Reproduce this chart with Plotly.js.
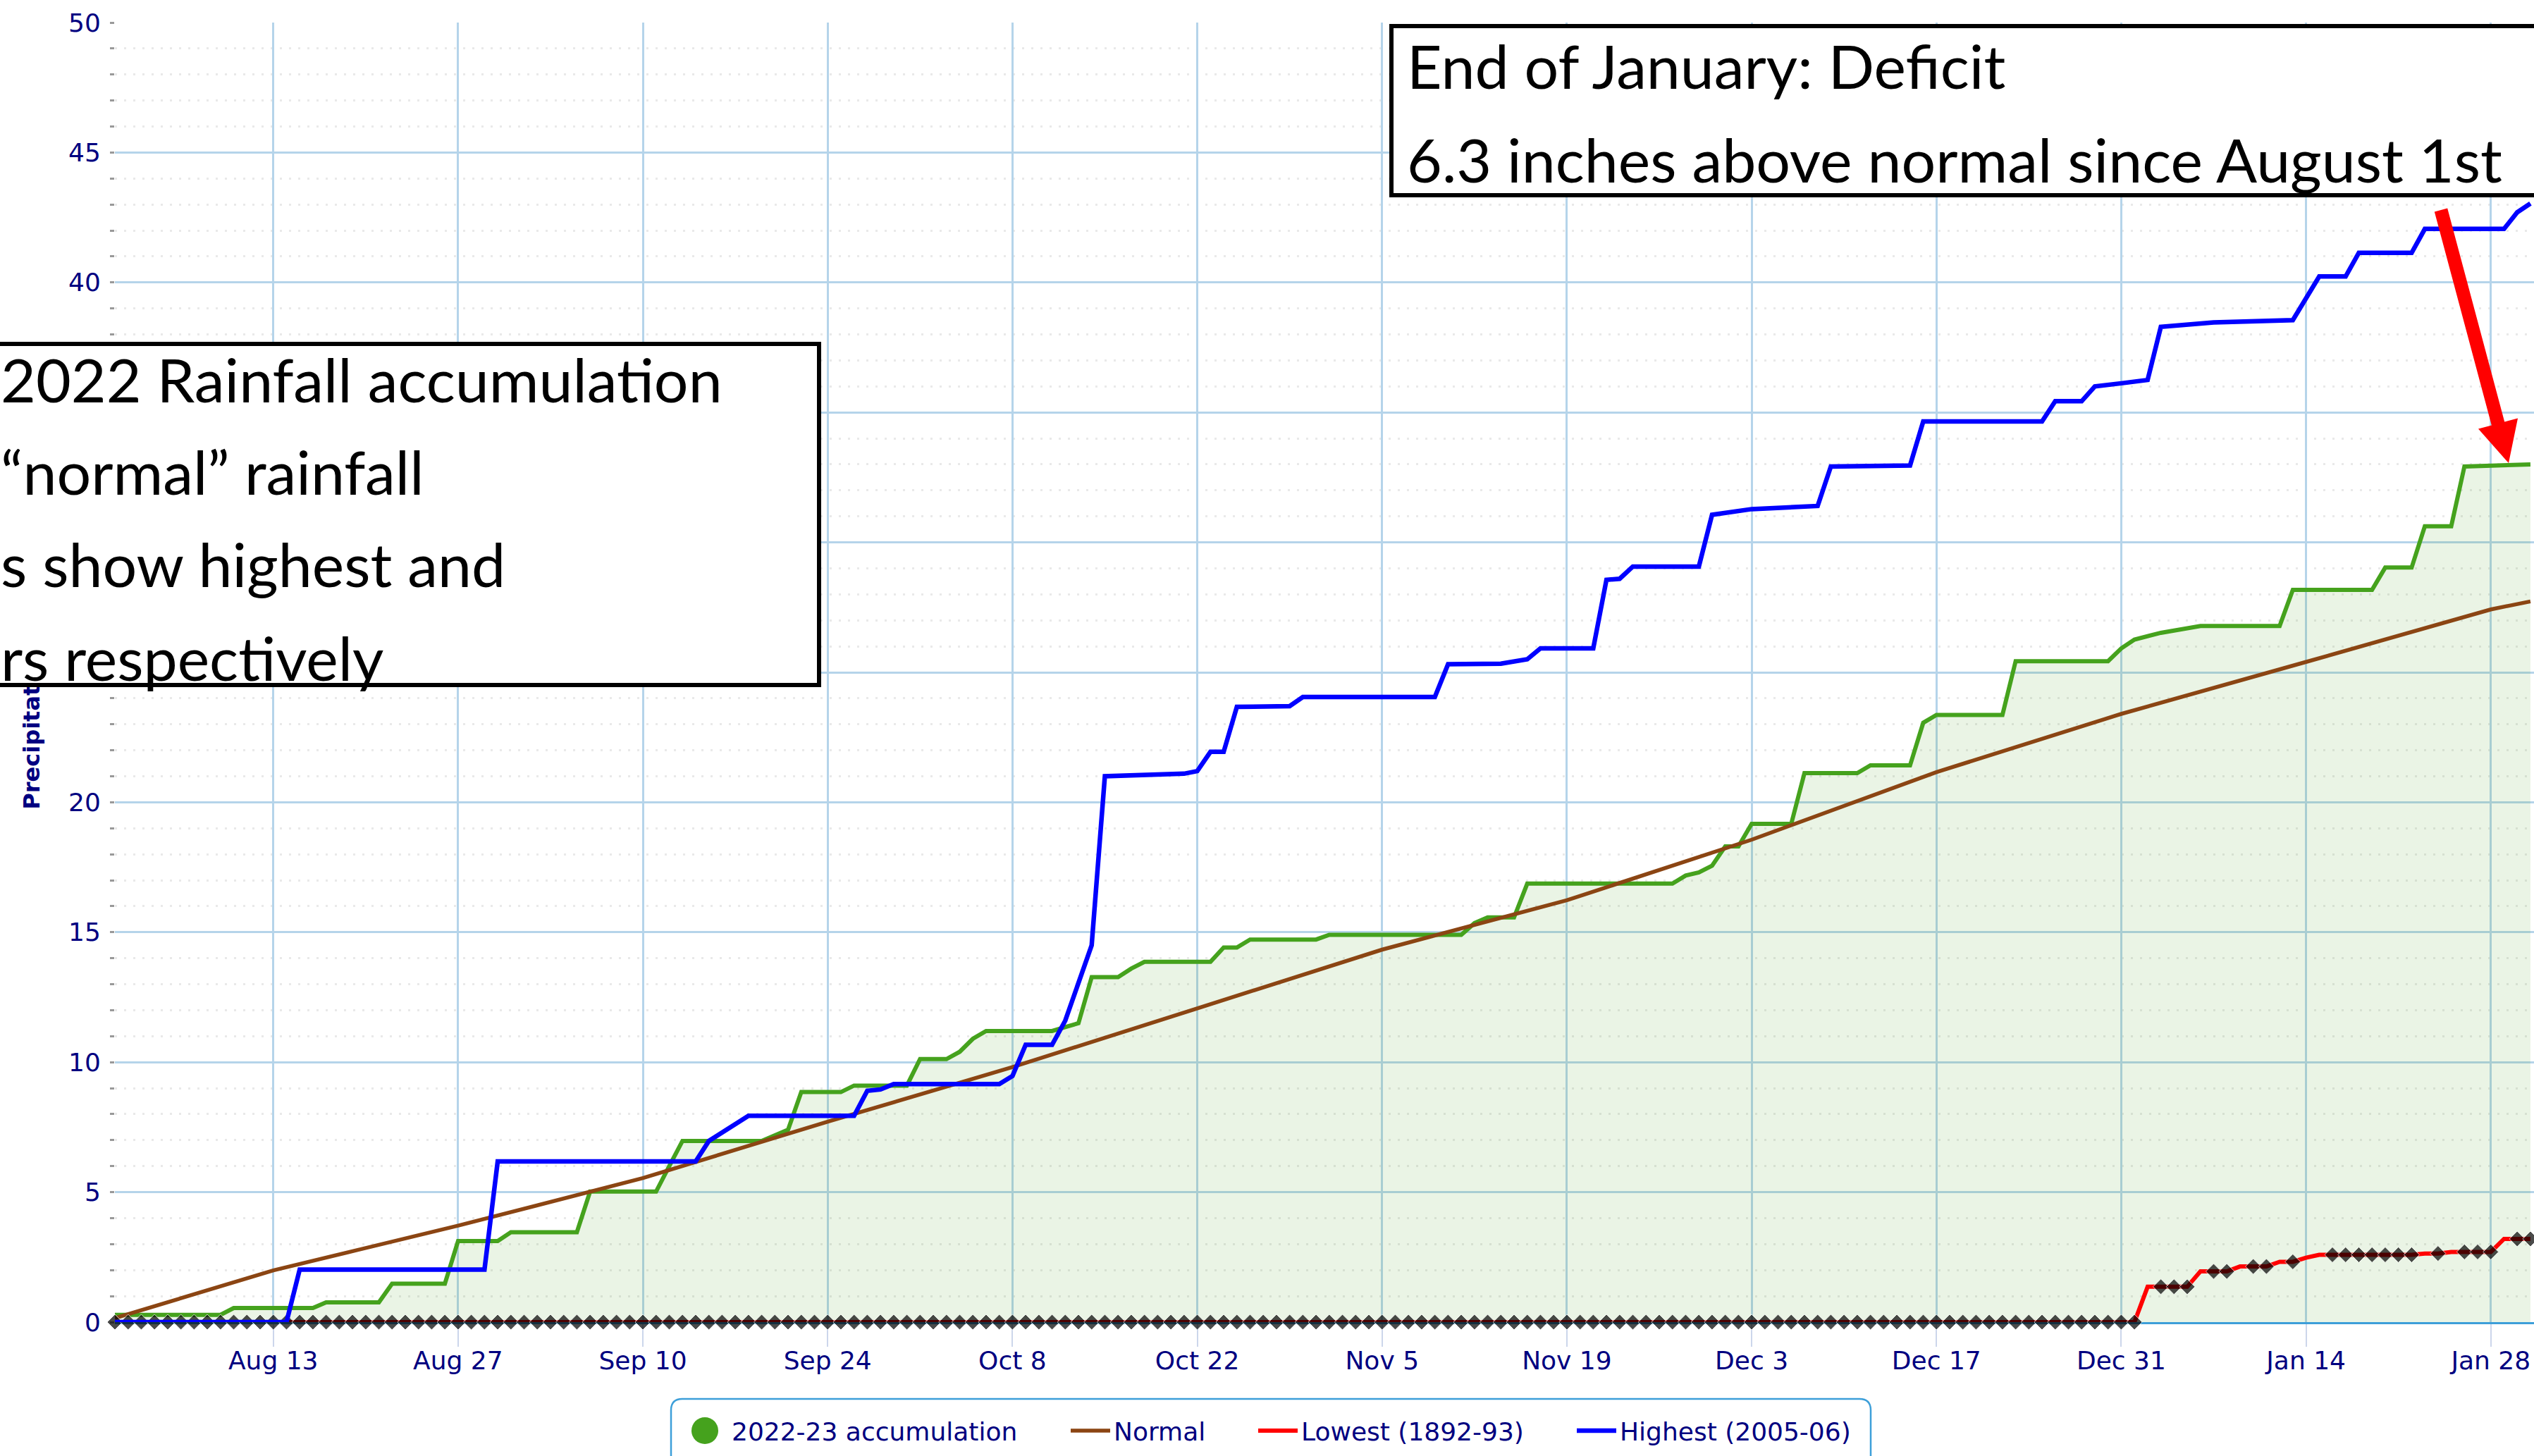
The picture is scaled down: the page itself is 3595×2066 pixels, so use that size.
<!DOCTYPE html>
<html>
<head>
<meta charset="utf-8">
<script src="https://cdn.plot.ly/plotly-3.0.1.min.js"></script>
<style>
html,body{margin:0;padding:0;background:#ffffff;}
#chart{width:3595px;height:2066px;}
</style>
</head>
<body>
<div id="chart"></div>
<script>
// ---------------- DATA ----------------
const seriesNames = ['2022-23 accumulation', 'Normal', 'Lowest (1892-93)', 'Highest (2005-06)'];

// 2022-23 accumulation (step vertices)
const accumDates = [
  '2022-08-01','2022-08-09','2022-08-10','2022-08-16','2022-08-17','2022-08-21','2022-08-22','2022-08-26',
  '2022-08-27','2022-08-30','2022-08-31','2022-09-05','2022-09-06','2022-09-11','2022-09-12','2022-09-13',
  '2022-09-19','2022-09-20','2022-09-21','2022-09-22','2022-09-25','2022-09-26','2022-09-30','2022-10-01',
  '2022-10-03','2022-10-04','2022-10-05','2022-10-06','2022-10-11','2022-10-12','2022-10-13','2022-10-14',
  '2022-10-16','2022-10-17','2022-10-18','2022-10-23','2022-10-24','2022-10-25','2022-10-26','2022-10-31',
  '2022-11-01','2022-11-11','2022-11-12','2022-11-13','2022-11-15','2022-11-16','2022-11-27','2022-11-28',
  '2022-11-29','2022-11-30','2022-12-01','2022-12-02','2022-12-03','2022-12-06','2022-12-07','2022-12-11',
  '2022-12-12','2022-12-15','2022-12-16','2022-12-17','2022-12-22','2022-12-23','2022-12-30','2022-12-31',
  '2023-01-01','2023-01-03','2023-01-06','2023-01-12','2023-01-13','2023-01-19','2023-01-20','2023-01-22',
  '2023-01-23','2023-01-25','2023-01-26','2023-01-31'
];
const accumValues = [
  0.28,0.28,0.54,0.54,0.76,0.76,1.48,1.48,
  3.12,3.12,3.46,3.46,5.02,5.02,6.0,6.97,
  6.97,7.2,7.4,8.85,8.85,9.1,9.1,10.12,
  10.12,10.4,10.9,11.2,11.2,11.35,11.5,13.27,
  13.27,13.6,13.86,13.86,14.41,14.41,14.72,14.72,
  14.9,14.9,15.35,15.57,15.57,16.87,16.87,17.18,
  17.3,17.56,18.3,18.3,19.17,19.17,21.12,21.12,
  21.42,21.42,23.06,23.36,23.36,25.43,25.43,25.92,
  26.26,26.52,26.78,26.78,28.17,28.17,29.03,29.03,
  30.62,30.62,32.92,33.0
];

// Normal
const normalDates = [
  '2022-08-01','2022-08-13','2022-08-27','2022-09-10','2022-09-24','2022-10-08','2022-10-22','2022-11-05',
  '2022-11-19','2022-12-03','2022-12-17','2022-12-31','2023-01-14','2023-01-28','2023-01-31'
];
const normalValues = [0.15,1.99,3.71,5.54,7.71,9.81,12.07,14.33,16.23,18.56,21.16,23.4,25.4,27.42,27.73];

// Highest (2005-06) (step vertices)
const highestDates = [
  '2022-08-01','2022-08-14','2022-08-15','2022-08-29','2022-08-30','2022-09-14','2022-09-15','2022-09-16',
  '2022-09-17','2022-09-18','2022-09-26','2022-09-27','2022-09-28','2022-09-29','2022-10-07','2022-10-08',
  '2022-10-09','2022-10-11','2022-10-12','2022-10-13','2022-10-14','2022-10-15','2022-10-21','2022-10-22',
  '2022-10-23','2022-10-24','2022-10-25','2022-10-29','2022-10-30','2022-11-09','2022-11-10','2022-11-14',
  '2022-11-15','2022-11-16','2022-11-17','2022-11-21','2022-11-22','2022-11-23','2022-11-24','2022-11-29',
  '2022-11-30','2022-12-03','2022-12-08','2022-12-09','2022-12-15','2022-12-16','2022-12-25','2022-12-26',
  '2022-12-28','2022-12-29','2022-12-31','2023-01-02','2023-01-03','2023-01-07','2023-01-13','2023-01-14',
  '2023-01-15','2023-01-17','2023-01-18','2023-01-22','2023-01-23','2023-01-29','2023-01-30','2023-01-31'
];
const highestValues = [
  0,0,2.02,2.02,6.18,6.18,6.97,7.3,
  7.6,7.94,7.94,8.9,8.95,9.16,9.16,9.47,
  10.67,10.67,11.6,13.1,14.5,21.0,21.1,21.2,
  21.94,21.94,23.67,23.7,24.05,24.05,25.31,25.33,
  25.4,25.5,25.92,25.92,28.56,28.6,29.07,29.07,
  31.06,31.28,31.4,32.92,32.96,34.65,34.65,35.43,
  35.43,36.0,36.12,36.25,38.29,38.46,38.55,39.4,
  40.23,40.23,41.14,41.14,42.06,42.06,42.7,43.04
];

// Lowest (1892-93): one value per day, Aug 1 2022 .. Jan 31 2023
const lowestStart = '2022-08-01';
const lowestValues = [
  0,0,0,0,0,0,0,0,0,0,0,0,0,0,0,0,0,0,0,0,
  0,0,0,0,0,0,0,0,0,0,0,0,0,0,0,0,0,0,0,0,
  0,0,0,0,0,0,0,0,0,0,0,0,0,0,0,0,0,0,0,0,
  0,0,0,0,0,0,0,0,0,0,0,0,0,0,0,0,0,0,0,0,
  0,0,0,0,0,0,0,0,0,0,0,0,0,0,0,0,0,0,0,0,
  0,0,0,0,0,0,0,0,0,0,0,0,0,0,0,0,0,0,0,0,
  0,0,0,0,0,0,0,0,0,0,0,0,0,0,0,0,0,0,0,0,
  0,0,0,0,0,0,0,0,0,0,0,0,0,0,
  1.36,1.36,1.36,1.36,1.95,1.95,1.95,2.14,2.14,2.14,
  2.32,2.32,2.48,2.59,2.59,2.59,2.59,2.59,2.59,2.59,
  2.59,2.64,2.64,2.7,2.7,2.7,2.7,3.2,3.2,3.2
];

const leftNote = ['2022 Rainfall accumulation', '\u201Cnormal\u201D rainfall', 's show highest and', 'rs respectively'];
const rightNote = ['End of January: Deficit', '6.3 inches above normal since August 1st'];
const yTitle = 'Precipitation (inches)';

// ---------------- BUILD ----------------
const W = 3595, H = 2066, ML = 163, MR = 0, MT = 32, MB = 190;
const PW = W - ML - MR, PH = H - MT - MB;
const px2x = X => (X - ML) / PW;
const px2y = Y => (H - MB - Y) / PH;

const startMs = Date.parse(lowestStart + 'T00:00:00Z');
const lowestDates = lowestValues.map((v, i) => new Date(startMs + i * 86400000).toISOString().slice(0, 10));
// black diamonds mark days with no new rain in the lowest year
const lowestMarkerSize = lowestValues.map((v, i) => (i === 0 || v === lowestValues[i - 1]) ? 17 : 0);

const NAVY = '#000080';
const GREEN = '#45a21d';
const tickFont = {family: 'DejaVu Sans, Verdana, sans-serif', size: 36, color: NAVY};
const noteFont = {family: 'Lato, sans-serif', size: 86, color: '#000000'};
const LEGEND_SYMBOL_W = 56;

const traces = [
  {x: accumDates, y: accumValues, type: 'scatter', mode: 'lines', fill: 'tozeroy',
   fillcolor: 'rgba(70,160,30,0.115)', line: {color: GREEN, width: 6}, showlegend: false,
   cliponaxis: false, hoverinfo: 'skip'},
  {x: [null], y: [null], type: 'scatter', mode: 'markers', name: seriesNames[0],
   marker: {color: 'rgba(0,0,0,0)', size: 16, symbol: 'circle'}, legend: 'legend'},
  {x: normalDates, y: normalValues, type: 'scatter', mode: 'lines', name: seriesNames[1],
   line: {color: '#8b4513', width: 5.5}, legend: 'legend2', cliponaxis: false},
  {x: lowestDates, y: lowestValues, type: 'scatter', mode: 'lines', name: seriesNames[2],
   line: {color: '#ff0000', width: 6}, legend: 'legend3', cliponaxis: false},
  {x: lowestDates, y: lowestValues, type: 'scatter', mode: 'markers', showlegend: false,
   marker: {color: '#000000', size: lowestMarkerSize, symbol: 'diamond'}, cliponaxis: false},
  {x: highestDates, y: highestValues, type: 'scatter', mode: 'lines', name: seriesNames[3],
   line: {color: '#0000ff', width: 6.5}, legend: 'legend4', cliponaxis: false}
];

function legendAt(textStartPx) {
  return {x: px2x(textStartPx - LEGEND_SYMBOL_W - 15), xanchor: 'left', y: px2y(2030), yanchor: 'middle',
          orientation: 'h', itemwidth: LEGEND_SYMBOL_W, bgcolor: 'rgba(0,0,0,0)', borderwidth: 0, font: tickFont};
}

// arrow polygon (pixel geometry -> paper)
function arrowPath(tail, tip, shaftHalf, headHalf, headLen) {
  const dx = tip[0] - tail[0], dy = tip[1] - tail[1];
  const len = Math.hypot(dx, dy), ux = dx / len, uy = dy / len;
  const nx = uy, ny = -ux;
  const bx = tip[0] - headLen * ux, by = tip[1] - headLen * uy;
  const pts = [
    [tail[0] + shaftHalf * nx, tail[1] + shaftHalf * ny],
    [bx + shaftHalf * nx, by + shaftHalf * ny],
    [bx + headHalf * nx, by + headHalf * ny],
    tip,
    [bx - headHalf * nx, by - headHalf * ny],
    [bx - shaftHalf * nx, by - shaftHalf * ny],
    [tail[0] - shaftHalf * nx, tail[1] - shaftHalf * ny]
  ];
  return 'M' + pts.map(p => px2x(p[0]).toFixed(5) + ',' + px2y(p[1]).toFixed(5)).join('L') + 'Z';
}
function roundedTop(x0, y0, x1, y1, r) {
  const rx = r / PW, ry = r / PH;
  const X0 = px2x(x0), X1 = px2x(x1), YT = px2y(y0), YB = px2y(y1);
  return `M${X0},${YB}L${X0},${YT - ry}Q${X0},${YT} ${X0 + rx},${YT}L${X1 - rx},${YT}Q${X1},${YT} ${X1},${YT - ry}L${X1},${YB}Z`;
}

// note boxes (white, black border) then their text lines
function boxAnn(left, top, right, bottom) {
  const bw = 6;
  return {xref: 'paper', yref: 'paper', x: px2x(left), y: px2y(top), xanchor: 'left', yanchor: 'top',
          text: '\u00a0', showarrow: false, width: right - left - 2 * bw, height: bottom - top - 2 * bw,
          bgcolor: '#ffffff', bordercolor: '#000000', borderwidth: bw, borderpad: 0, font: noteFont};
}
function lineAnn(text, leftPx, midPx) {
  return {xref: 'paper', yref: 'paper', x: px2x(leftPx), y: px2y(midPx), xanchor: 'left', yanchor: 'middle',
          text: text, align: 'left', showarrow: false, borderpad: 0, font: noteFont};
}
const leftMids = [537, 668, 799, 932];
const leftStarts = [0, 0, 0, 0];
const rightMids = [93, 225];

const annotations = [
  boxAnn(-26, 485, 1165, 975),
  boxAnn(1971, 34, 3700, 280)
].concat(
  leftNote.map((t, i) => lineAnn(t, leftStarts[i], leftMids[i])),
  rightNote.map((t, i) => lineAnn(t, 1995, rightMids[i]))
);

const layout = {
  width: W, height: H,
  margin: {l: ML, r: MR, t: MT, b: MB, pad: 0},
  paper_bgcolor: '#ffffff', plot_bgcolor: '#ffffff',
  font: tickFont,
  xaxis: {
    type: 'date', range: ['2022-08-01', '2023-01-31 06:30'],
    tick0: '2022-08-13', dtick: 14 * 86400000, tickformat: '%b %-d',
    ticks: 'outside', ticklen: 32, tickwidth: 2, tickcolor: '#ccd6eb', ticklabelstandoff: -11,
    showgrid: true, gridcolor: '#b5d4ea', gridwidth: 3,
    showline: true, linecolor: '#3d9fd9', linewidth: 3,
    zeroline: false, tickfont: tickFont, layer: 'below traces', fixedrange: true
  },
  yaxis: {
    range: [0, 50], tick0: 0, dtick: 5,
    ticks: 'outside', ticklen: 6, tickwidth: 3, tickcolor: '#999999',
    showgrid: true, gridcolor: '#b5d4ea', gridwidth: 3,
    showline: false, zeroline: false, tickfont: tickFont, ticklabelstandoff: 6,
    layer: 'below traces', fixedrange: true,
    minor: {dtick: 1, ticks: 'outside', ticklen: 6, tickwidth: 3, tickcolor: '#999999',
            showgrid: true, gridcolor: '#e9e9e9', gridwidth: 3, griddash: '3px,10px'},
    title: {text: yTitle, standoff: 30,
            font: {family: 'DejaVu Sans, Verdana, sans-serif', size: 32, color: NAVY, weight: 'bold'}}
  },
  legend: legendAt(1043),
  legend2: legendAt(1585),
  legend3: legendAt(1851),
  legend4: legendAt(2303),
  shapes: [
    {type: 'path', xref: 'paper', yref: 'paper', path: roundedTop(952, 1985, 2654, 2110, 16),
     line: {color: '#3d9fd9', width: 2.5}, fillcolor: 'rgba(0,0,0,0)', layer: 'above'},
    {type: 'circle', xref: 'paper', yref: 'paper',
     x0: px2x(981), x1: px2x(1019), y0: px2y(2049), y1: px2y(2011),
     fillcolor: GREEN, line: {width: 0}, layer: 'above'},
    {type: 'path', xref: 'paper', yref: 'paper',
     path: arrowPath([3463, 298], [3559, 657], 9.5, 29, 58),
     fillcolor: '#ff0000', line: {width: 0}, layer: 'above'}
  ],
  annotations: annotations
};

Plotly.newPlot('chart', traces, layout, {staticPlot: true, displayModeBar: false});
</script>
</body>
</html>
